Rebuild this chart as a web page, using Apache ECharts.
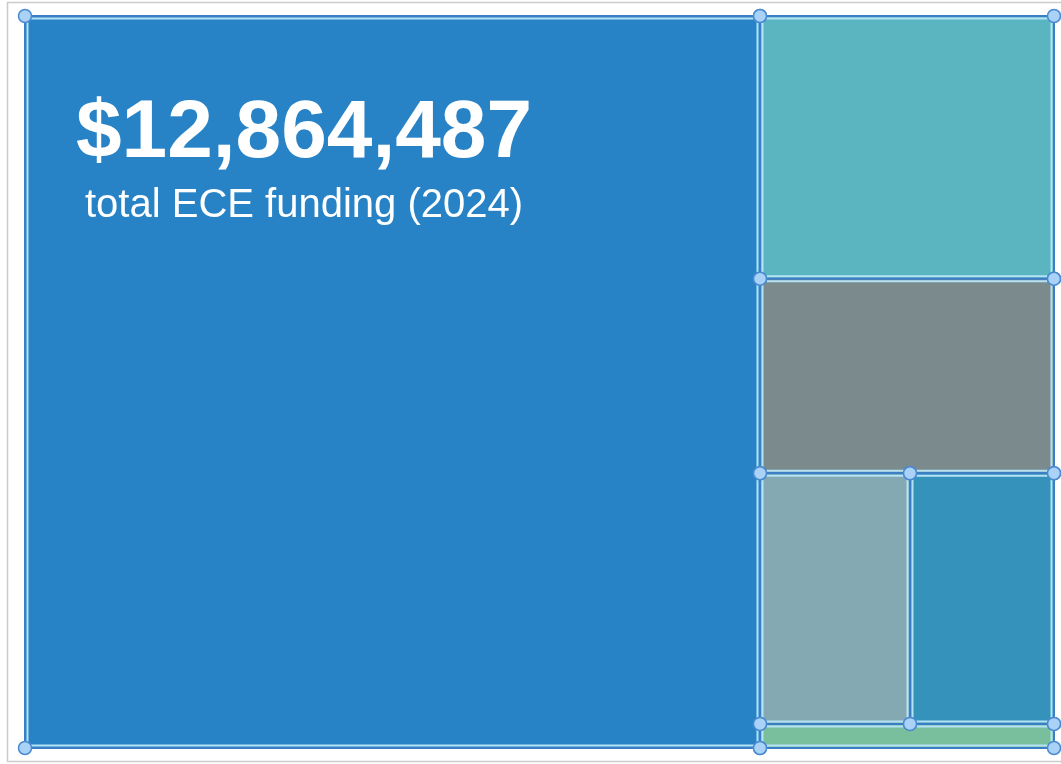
<!DOCTYPE html>
<html>
<head>
<meta charset="utf-8">
<title>Total ECE funding (2024)</title>
<script src="https://cdn.jsdelivr.net/npm/echarts@6/dist/echarts.min.js"></script>
<style>
  html, body { margin: 0; padding: 0; background: #ffffff; }
  #chart { width: 1061px; height: 764px; }
</style>
</head>
<body>
<div id="chart"></div>
<script>
// Funding streams (dollars) and their fill colours
const streams = ['Stream 1', 'Stream 2', 'Stream 3', 'Stream 4', 'Stream 5', 'Stream 6'];
const funding = [9188947, 1319170, 976780, 642220, 616530, 120840];
const streamColors = ['#2783c6', '#5ab5c0', '#7b8a8d', '#85a9b2', '#3593bb', '#7abf9d'];

// Nesting of the slice-and-dice treemap: even depths split across, odd depths split down
const tree = [0, [1, 2, [3, 4], 5]];

const titleText = '$' + funding.reduce((s, v) => s + v, 0).toLocaleString('en-US');
const subtitleText = 'total ECE funding (2024)';

function nodeTotal(node) {
  return Array.isArray(node) ? node.reduce((s, n) => s + nodeTotal(n), 0) : funding[node];
}

// Turns the tree into unit-square rectangles [x0, y0, x1, y1, streamIndex]
function sliceAndDice(node, x0, y0, x1, y1, depth, out) {
  if (!Array.isArray(node)) {
    out.push([x0, y0, x1, y1, node]);
    return out;
  }
  const sum = nodeTotal(node);
  let acc = 0;
  node.forEach(child => {
    const f0 = acc / sum;
    acc += nodeTotal(child);
    const f1 = acc / sum;
    if (depth % 2 === 0) {
      sliceAndDice(child, x0 + (x1 - x0) * f0, y0, x0 + (x1 - x0) * f1, y1, depth + 1, out);
    } else {
      sliceAndDice(child, x0, y0 + (y1 - y0) * f0, x1, y0 + (y1 - y0) * f1, depth + 1, out);
    }
  });
  return out;
}

const cells = sliceAndDice(tree, 0, 0, 1, 1, 0, []);

function cellBox(api) {
  const p0 = api.coord([api.value(0), api.value(1)]);
  const p1 = api.coord([api.value(2), api.value(3)]);
  return {
    x: Math.min(p0[0], p1[0]),
    y: Math.min(p0[1], p1[1]),
    w: Math.abs(p1[0] - p0[0]),
    h: Math.abs(p1[1] - p0[1])
  };
}

const chart = echarts.init(document.getElementById('chart'), null, { renderer: 'canvas' });

chart.setOption({
  animation: false,
  backgroundColor: '#ffffff',
  grid: { left: 25, right: 7, top: 16, bottom: 16 },
  xAxis: { type: 'value', min: 0, max: 1, show: false },
  yAxis: { type: 'value', min: 0, max: 1, inverse: true, show: false },
  graphic: [
    {
      type: 'rect',
      silent: true,
      z: -10,
      shape: { x: 7.5, y: 2.5, width: 1060, height: 759 },
      style: { fill: 'none', stroke: '#cbcbcb', lineWidth: 1.5 }
    },
    {
      type: 'text',
      z: 100,
      style: {
        x: 304,
        y: 93,
        text: titleText,
        align: 'center',
        verticalAlign: 'top',
        fill: '#ffffff',
        font: 'bold 82px "Liberation Sans", Arial, sans-serif'
      }
    },
    {
      type: 'text',
      z: 100,
      style: {
        x: 304,
        y: 186,
        text: subtitleText,
        align: 'center',
        verticalAlign: 'top',
        fill: '#ffffff',
        font: '40px "Liberation Sans", Arial, sans-serif'
      }
    }
  ],
  series: [
    {
      name: 'Funding',
      type: 'custom',
      coordinateSystem: 'cartesian2d',
      encode: { x: [0, 2], y: [1, 3] },
      data: cells,
      z: 2,
      renderItem(params, api) {
        const b = cellBox(api);
        const color = streamColors[api.value(4)];
        return {
          type: 'group',
          children: [
            {
              type: 'rect',
              shape: { x: b.x, y: b.y, width: b.w, height: b.h },
              style: { fill: color, stroke: '#3a7fc6', lineWidth: 2 }
            },
            {
              type: 'rect',
              shape: { x: b.x + 2.5, y: b.y + 2.5, width: b.w - 5, height: b.h - 5 },
              style: { fill: 'none', stroke: '#b4e3f5', lineWidth: 2 }
            }
          ]
        };
      }
    },
    {
      name: 'Handles',
      type: 'custom',
      coordinateSystem: 'cartesian2d',
      encode: { x: [0, 2], y: [1, 3] },
      data: cells,
      z: 5,
      silent: true,
      renderItem(params, api) {
        const b = cellBox(api);
        const corners = [[b.x, b.y], [b.x + b.w, b.y], [b.x, b.y + b.h], [b.x + b.w, b.y + b.h]];
        return {
          type: 'group',
          children: corners.map(c => ({
            type: 'circle',
            shape: { cx: c[0], cy: c[1], r: 6.5 },
            style: { fill: '#a9d2f6', stroke: '#4a8ad0', lineWidth: 1.5 }
          }))
        };
      }
    }
  ]
});
</script>
</body>
</html>
